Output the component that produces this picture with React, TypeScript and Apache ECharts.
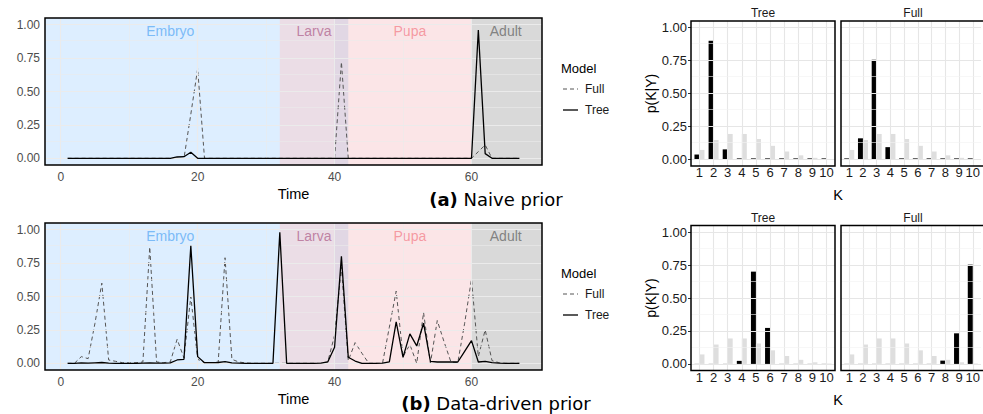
import React, { useEffect, useRef } from "react";
import * as echarts from "echarts";

// ---------- data ----------
const timePoints = [
  1, 2, 3, 4, 5, 6, 7, 8, 9, 10, 11, 12, 13, 14, 15, 16, 17, 18, 19, 20,
  21, 22, 23, 24, 25, 26, 27, 28, 29, 30, 31, 32, 33, 34, 35, 36, 37, 38, 39, 40,
  41, 42, 43, 44, 45, 46, 47, 48, 49, 50, 51, 52, 53, 54, 55, 56, 57, 58, 59, 60,
  61, 62, 63, 64, 65, 66, 67,
];

const naiveTree = [
  0, 0, 0, 0, 0, 0, 0, 0, 0, 0,
  0, 0, 0, 0, 0, 0, 0.01, 0.012, 0.045, 0,
  0, 0, 0, 0, 0, 0, 0, 0, 0, 0,
  0, 0, 0, 0, 0, 0, 0, 0, 0, 0,
  0, 0, 0, 0, 0, 0, 0, 0, 0, 0,
  0, 0, 0, 0, 0, 0, 0, 0, 0, 0,
  0.96, 0.035, 0, 0, 0, 0, 0,
];
const naiveFull = [
  0, 0, 0, 0, 0, 0, 0, 0, 0, 0,
  0, 0, 0, 0, 0, 0, 0, 0, 0.33, 0.67,
  0, 0, 0, 0, 0, 0, 0, 0, 0, 0,
  0, 0, 0, 0, 0, 0, 0, 0, 0, 0,
  0.72, 0, 0, 0, 0, 0, 0, 0, 0, 0,
  0, 0, 0, 0, 0, 0, 0, 0, 0, 0,
  0.05, 0.1, 0, 0, 0, 0, 0,
];
const dataTree = [
  0, 0, 0.003, 0.002, 0.004, 0.006, 0.002, 0, 0, 0,
  0, 0.002, 0.004, 0.002, 0.002, 0.004, 0.025, 0.03, 0.88, 0.05,
  0.005, 0.005, 0.006, 0.012, 0.004, 0.002, 0, 0, 0, 0,
  0, 0.98, 0, 0, 0, 0, 0, 0.002, 0.01, 0.12,
  0.8, 0.045, 0.017, 0, 0, 0, 0.002, 0.01, 0.31, 0.045,
  0.22, 0.13, 0.3, 0.015, 0.01, 0.01, 0.01, 0.01, 0.09, 0.17,
  0.01, 0.015, 0.005, 0.002, 0, 0, 0,
];
const dataFull = [
  0, 0, 0.05, 0.035, 0.3, 0.6, 0.025, 0.015, 0.005, 0.003,
  0.005, 0.01, 0.87, 0.01, 0.005, 0.01, 0.18, 0.04, 0.5, 0.03,
  0.005, 0.003, 0.01, 0.79, 0.03, 0.01, 0.003, 0, 0, 0,
  0, 0, 0, 0, 0, 0, 0, 0, 0.01, 0.21,
  0.72, 0.02, 0.155, 0.075, 0, 0, 0, 0.27, 0.54, 0.05,
  0.14, 0, 0.38, 0, 0.32, 0.16, 0.01, 0.005, 0.3, 0.63,
  0.05, 0.25, 0.02, 0.005, 0, 0, 0,
];

const stageNames = ["Embryo", "Larva", "Pupa", "Adult"];
const stageStarts = [-2.3, 32, 42, 60];
const stageEnds = [32, 42, 60, 70.3];
const stageLabelX = [16, 37, 51, 65];
const stageLabelY = 0.95;
const overlapBand = [40, 42];

const timeTicks = [0, 20, 40, 60];
const timeMinor = [10, 30, 50];
const probTicks = [0, 0.25, 0.5, 0.75, 1];
const probMinor = [0.125, 0.375, 0.625, 0.875];

const kValues = [1, 2, 3, 4, 5, 6, 7, 8, 9, 10];
const priorK = [0.072, 0.147, 0.193, 0.193, 0.155, 0.103, 0.06, 0.031, 0.012, 0.003];
const naiveTreeK = [0.037, 0.9, 0.076, 0, 0, 0, 0, 0, 0, 0];
const naiveFullK = [0, 0.16, 0.756, 0.093, 0, 0, 0, 0, 0, 0];
const dataTreeK = [0, 0, 0, 0.023, 0.7, 0.273, 0, 0, 0, 0];
const dataFullK = [0, 0, 0, 0, 0, 0, 0, 0.025, 0.232, 0.753];

// ---------- styling / layout ----------
const FONT = "'Liberation Sans', Arial, sans-serif";
const stageFills = [
  "rgba(30,144,255,0.15)",
  "rgba(122,28,88,0.15)",
  "rgba(228,82,95,0.15)",
  "rgba(0,0,0,0.15)",
];
const stageTextColors = ["#62adf5", "#b36a92", "#f3858f", "#6a6a6a"];

const lineGrids = [
  { left: 45, top: 18, width: 497, height: 147 },
  { left: 45, top: 223, width: 497, height: 147 },
];
const barGrids = [
  { left: 691, top: 21, width: 144, height: 145 },
  { left: 841, top: 21, width: 144, height: 145 },
  { left: 691, top: 225.5, width: 144, height: 145 },
  { left: 841, top: 225.5, width: 144, height: 145 },
];
const barGridTitles = ["Tree", "Full", "Tree", "Full"];

const fmt2 = (v: number) => v.toFixed(2);

function gridLineSeries(idx: number, xMajor: number[], xMinor: number[], major: string, minor: string) {
  return {
    type: "line",
    xAxisIndex: idx,
    yAxisIndex: idx,
    data: [],
    z: 1,
    silent: true,
    markLine: {
      silent: true,
      symbol: ["none", "none"],
      label: { show: false },
      lineStyle: { type: "solid" },
      emphasis: { disabled: true },
      data: [
        ...xMajor.map((v) => ({ xAxis: v, lineStyle: { color: major, width: 1.1, type: "solid" } })),
        ...xMinor.map((v) => ({ xAxis: v, lineStyle: { color: minor, width: 0.6, type: "solid" } })),
        ...probTicks.map((v) => ({ yAxis: v, lineStyle: { color: major, width: 1.1, type: "solid" } })),
        ...probMinor.map((v) => ({ yAxis: v, lineStyle: { color: minor, width: 0.6, type: "solid" } })),
      ],
    },
  };
}

function buildOption() {
  const grid = [...lineGrids, ...barGrids].map((g) => ({ ...g, show: false }));

  const xAxis: any[] = [
    ...lineGrids.map((_, i) => ({
      gridIndex: i,
      type: "value",
      min: -2.3,
      max: 70.3,
      axisLine: { show: false },
      axisTick: { show: true, customValues: timeTicks, length: 3, lineStyle: { color: "#333" } },
      axisLabel: { customValues: timeTicks, color: "#4d4d4d", fontSize: 12, margin: 6, fontFamily: FONT },
      splitLine: { show: false },
      name: "Time",
      nameLocation: "middle",
      nameGap: 21,
      nameTextStyle: { fontSize: 14.5, color: "#000", fontFamily: FONT },
    })),
    ...barGrids.map((_, j) => ({
      gridIndex: 2 + j,
      type: "value",
      min: 0.4,
      max: 10.6,
      axisLine: { show: false },
      axisTick: { show: true, customValues: kValues, length: 2.5, lineStyle: { color: "#333" } },
      axisLabel: { customValues: kValues, color: "#1a1a1a", fontSize: 13, margin: 0, fontFamily: FONT },
      splitLine: { show: false },
    })),
  ];

  const yAxis: any[] = [
    ...lineGrids.map((_, i) => ({
      gridIndex: i,
      type: "value",
      min: -0.05,
      max: 1.05,
      axisLine: { show: false },
      axisTick: { show: true, customValues: probTicks, length: 3, lineStyle: { color: "#333" } },
      axisLabel: { customValues: probTicks, formatter: fmt2, color: "#4d4d4d", fontSize: 12, margin: 5, fontFamily: FONT },
      splitLine: { show: false },
    })),
    ...barGrids.map((_, j) => {
      const isLeft = j % 2 === 0;
      return {
        gridIndex: 2 + j,
        type: "value",
        min: -0.05,
        max: 1.05,
        axisLine: { show: false },
        axisTick: { show: isLeft, customValues: probTicks, length: 3, lineStyle: { color: "#333" } },
        axisLabel: { show: isLeft, customValues: probTicks, formatter: fmt2, color: "#1a1a1a", fontSize: 13, margin: 4, fontFamily: FONT },
        splitLine: { show: false },
        name: isLeft ? "p(K|Y)" : "",
        nameLocation: "middle",
        nameGap: 33,
        nameTextStyle: { fontSize: 14, color: "#000", fontFamily: FONT },
      };
    }),
  ];

  const series: any[] = [];
  const lineSets = [
    { tree: naiveTree, full: naiveFull },
    { tree: dataTree, full: dataFull },
  ];
  lineSets.forEach((set, i) => {
    series.push(gridLineSeries(i, timeTicks, timeMinor, "#ebebeb", "#ebebeb"));
    series.push({
      type: "line",
      xAxisIndex: i,
      yAxisIndex: i,
      data: [],
      z: 2,
      silent: true,
      markArea: {
        silent: true,
        emphasis: { disabled: true },
        data: [
          ...stageNames.map((n, k) => [
            { xAxis: stageStarts[k], itemStyle: { color: stageFills[k] } },
            { xAxis: stageEnds[k] },
          ]),
          [
            { xAxis: overlapBand[0], itemStyle: { color: "rgba(40,110,200,0.05)" } },
            { xAxis: overlapBand[1] },
          ],
        ],
      },
    });
    series.push({
      type: "scatter",
      xAxisIndex: i,
      yAxisIndex: i,
      z: 3,
      silent: true,
      symbolSize: 0,
      data: stageNames.map((n, k) => ({
        name: n,
        value: [stageLabelX[k], stageLabelY],
        label: { color: stageTextColors[k] },
      })),
      label: { show: true, position: "inside", formatter: "{b}", fontSize: 14, fontFamily: FONT },
    });
    series.push({
      type: "line",
      name: "Full",
      xAxisIndex: i,
      yAxisIndex: i,
      z: 4,
      symbol: "none",
      data: timePoints.map((t, k) => [t, set.full[k]]),
      lineStyle: { color: "#555", width: 1, type: [4, 3] },
    });
    series.push({
      type: "line",
      name: "Tree",
      xAxisIndex: i,
      yAxisIndex: i,
      z: 5,
      symbol: "none",
      data: timePoints.map((t, k) => [t, set.tree[k]]),
      lineStyle: { color: "#000", width: 1.3 },
    });
  });

  const barSets = [naiveTreeK, naiveFullK, dataTreeK, dataFullK];
  barSets.forEach((vals, j) => {
    const gi = 2 + j;
    series.push(gridLineSeries(gi, kValues, [], "#e6e6e6", "#f2f2f2"));
    series.push({
      type: "bar",
      name: "posterior",
      xAxisIndex: gi,
      yAxisIndex: gi,
      z: 3,
      data: kValues.map((k, m) => [k, vals[m]]),
      barWidth: 5,
      barGap: "0%",
      barMinHeight: 1,
      itemStyle: { color: "#000" },
    });
    series.push({
      type: "bar",
      name: "prior",
      xAxisIndex: gi,
      yAxisIndex: gi,
      z: 3,
      data: kValues.map((k, m) => [k, priorK[m]]),
      barWidth: 5,
      barGap: "0%",
      itemStyle: { color: "#dedede" },
    });
  });

  const graphic: any[] = [];
  [...lineGrids, ...barGrids].forEach((g) => {
    graphic.push({
      type: "rect",
      silent: true,
      z: 100,
      shape: { x: g.left, y: g.top, width: g.width, height: g.height },
      style: { fill: "none", stroke: "#000", lineWidth: 1.5 },
    });
  });
  barGrids.forEach((g, j) => {
    graphic.push({
      type: "text",
      silent: true,
      x: g.left + g.width / 2,
      y: g.top - 8,
      style: { text: barGridTitles[j], fontSize: 12, fontFamily: FONT, fill: "#1a1a1a", align: "center", verticalAlign: "middle" },
    });
  });
  [195, 399.5].forEach((yy) => {
    graphic.push({
      type: "text",
      silent: true,
      x: 838,
      y: yy,
      style: { text: "K", fontSize: 14.5, fontFamily: FONT, fill: "#000", align: "center", verticalAlign: "middle" },
    });
  });
  // legends
  [{ y0: 68 }, { y0: 273 }].forEach(({ y0 }) => {
    graphic.push({
      type: "text", silent: true, x: 561, y: y0,
      style: { text: "Model", fontSize: 13, fontFamily: FONT, fill: "#000", verticalAlign: "middle" },
    });
    graphic.push({
      type: "line", silent: true,
      shape: { x1: 563, y1: y0 + 21, x2: 578, y2: y0 + 21 },
      style: { stroke: "#555", lineWidth: 1, lineDash: [4, 3] },
    });
    graphic.push({
      type: "text", silent: true, x: 585, y: y0 + 21,
      style: { text: "Full", fontSize: 12, fontFamily: FONT, fill: "#1a1a1a", verticalAlign: "middle" },
    });
    graphic.push({
      type: "line", silent: true,
      shape: { x1: 563, y1: y0 + 42, x2: 578, y2: y0 + 42 },
      style: { stroke: "#000", lineWidth: 1.3 },
    });
    graphic.push({
      type: "text", silent: true, x: 585, y: y0 + 42,
      style: { text: "Tree", fontSize: 12, fontFamily: FONT, fill: "#1a1a1a", verticalAlign: "middle" },
    });
  });
  // captions
  [
    { y: 199, tag: "(a)", rest: " Naive prior" },
    { y: 403, tag: "(b)", rest: " Data-driven prior" },
  ].forEach((c) => {
    graphic.push({
      type: "text", silent: true, x: 496, y: c.y,
      style: {
        text: "{b|" + c.tag + "}" + c.rest,
        fontSize: 18,
        fontFamily: "'DejaVu Sans', sans-serif",
        fill: "#000",
        align: "center",
        verticalAlign: "middle",
        rich: { b: { fontWeight: "bold", fontSize: 18, fontFamily: "'DejaVu Sans', sans-serif", fill: "#000" } },
      },
    });
  });

  return {
    animation: false,
    backgroundColor: "#fff",
    textStyle: { fontFamily: FONT },
    grid,
    xAxis,
    yAxis,
    series,
    graphic,
  };
}

export default function App() {
  const ref = useRef<HTMLDivElement>(null);
  useEffect(() => {
    if (!ref.current) return;
    const chart = echarts.init(ref.current, null, { renderer: "svg" });
    chart.setOption(buildOption() as any);
    return () => chart.dispose();
  }, []);
  return (
    <div
      ref={ref}
      style={{ position: "fixed", left: 0, top: 0, width: 983, height: 414, background: "#fff" }}
    />
  );
}
